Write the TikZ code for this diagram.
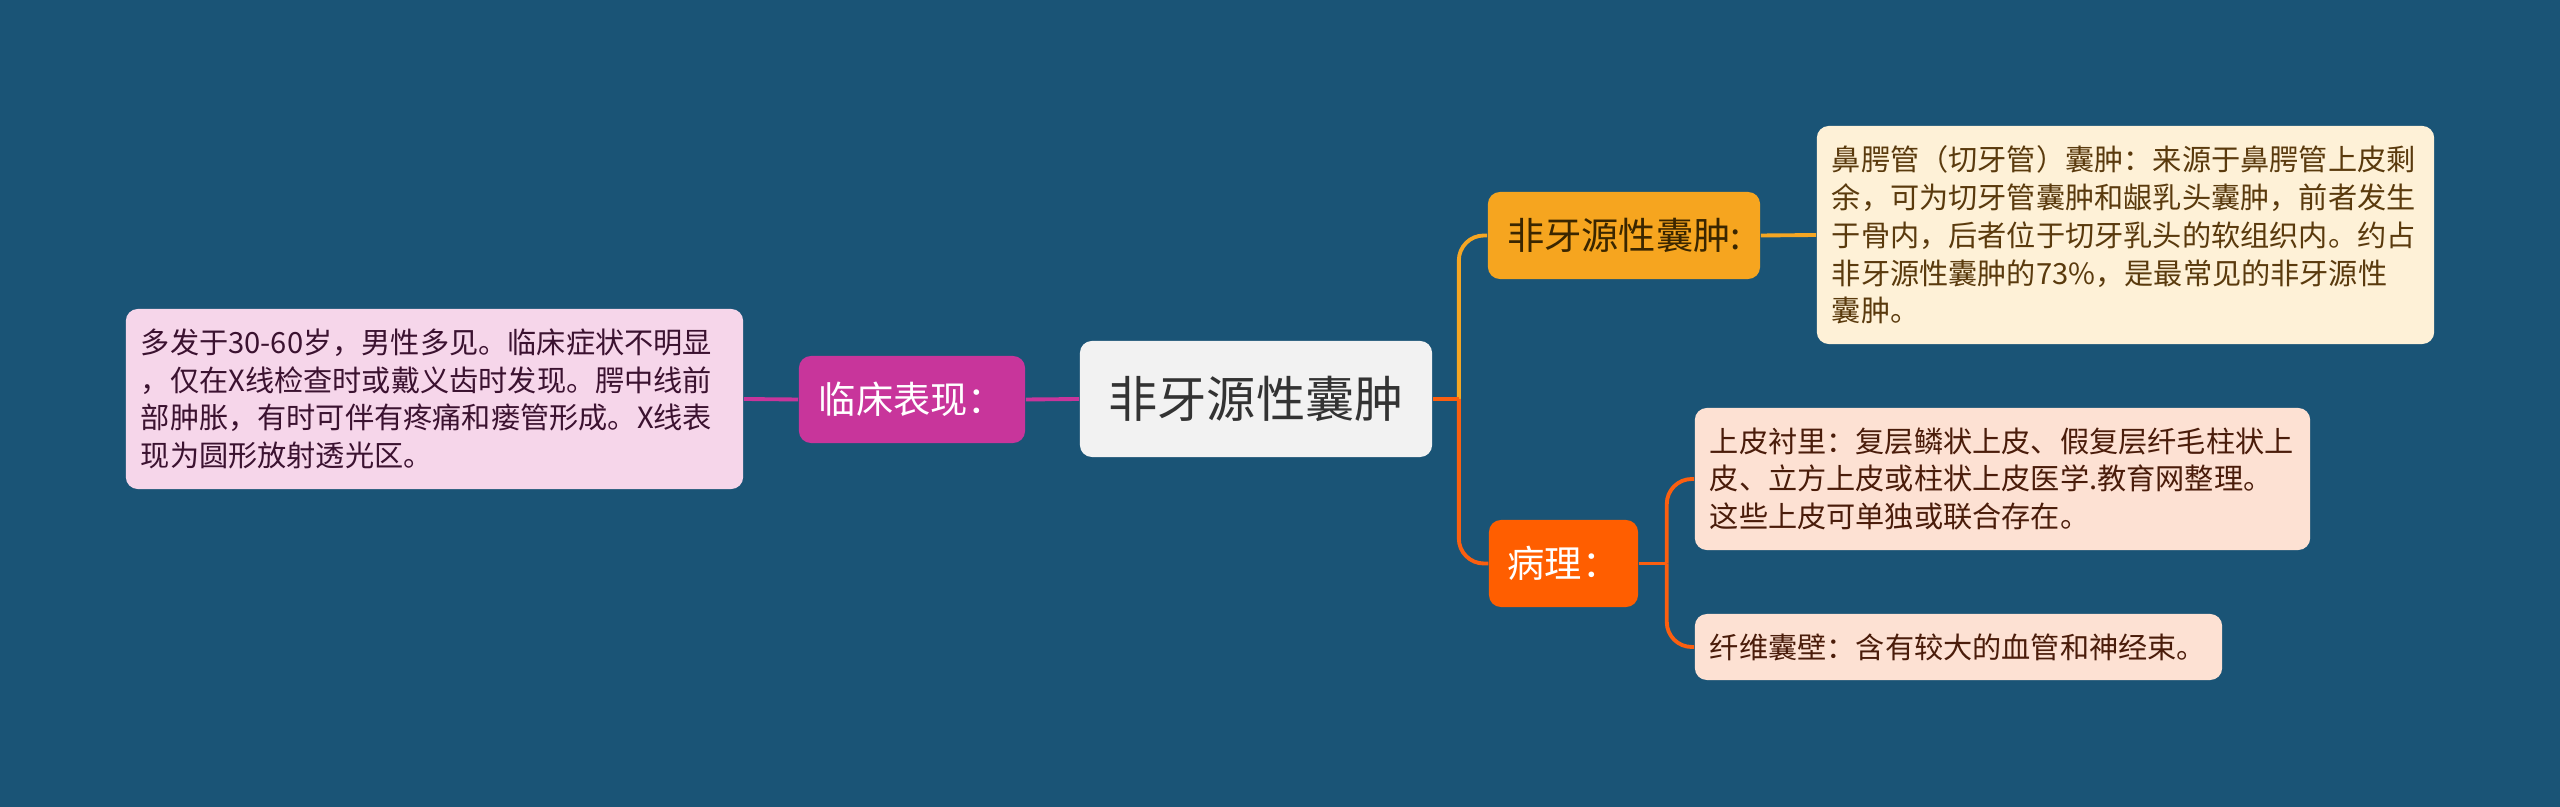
\documentclass[tikz,border=0pt]{standalone}
\usepackage{fontspec}
\setmainfont{Noto Sans CJK SC}
\usepackage{tikz}
\usetikzlibrary{positioning}

\definecolor{bgBlue}{HTML}{1A5476}
\definecolor{rootFill}{HTML}{F2F2F2}
\definecolor{rootText}{HTML}{333333}
\definecolor{clinicalFill}{HTML}{C8359B}
\definecolor{clinicalLeafFill}{HTML}{F6D6EA}
\definecolor{clinicalLeafText}{HTML}{3B1230}
\definecolor{cystFill}{HTML}{F6A51F}
\definecolor{cystText}{HTML}{3A2600}
\definecolor{cystLeafFill}{HTML}{FEF1D7}
\definecolor{cystLeafText}{HTML}{5A3A0D}
\definecolor{pathoFill}{HTML}{FF5E00}
\definecolor{pathoLeafFill}{HTML}{FDE1D3}
\definecolor{pathoLeafText}{HTML}{4A1C0A}
\definecolor{yellowLine}{HTML}{F5A623}
\definecolor{orangeLine}{HTML}{FA5F10}
\definecolor{magentaLine}{HTML}{C8359B}

\begin{document}
\begin{tikzpicture}[
    x=0.01cm, y=-0.01cm,
    box/.style={rounded corners=0.12cm, inner sep=0pt, align=center},
    topic/.style={box, minimum height=0.87cm, font=\fontsize{10.6pt}{12pt}\selectfont},
    leaf/.style={box, align=left, inner xsep=0.15cm, font=\fontsize{8.3pt}{10.75pt}\selectfont},
    link/.style={line width=1.1pt, rounded corners=0.25cm}
]

% Background
\useasboundingbox (0,0) rectangle (2560,807);
\fill[bgBlue] (0,0) rectangle (2560,807);

% Central node
\node[box, fill=rootFill, text=rootText, minimum width=3.52cm, minimum height=1.16cm,
      font=\fontsize{14pt}{16pt}\selectfont] (root) at (1256,399) {非牙源性囊肿};

% Left branch
\node[topic, fill=clinicalFill, text=white, minimum width=2.26cm] (clinical) at (912,399.5) {临床表现：};
\node[leaf, fill=clinicalLeafFill, text=clinicalLeafText, text width=5.87cm, minimum height=1.8cm]
    (clinicalText) at (434.5,399)
    {多发于30-60岁，男性多见。临床症状不明显\\，仅在X线检查时或戴义齿时发现。腭中线前\\部肿胀，有时可伴有疼痛和瘘管形成。X线表\\现为圆形放射透光区。};

% Right branch, top
\node[topic, fill=cystFill, text=cystText, minimum width=2.72cm] (cyst) at (1624,235.5) {非牙源性囊肿:};
\node[leaf, fill=cystLeafFill, text=cystLeafText, text width=5.87cm, minimum height=2.18cm]
    (cystText) at (2125.5,235)
    {鼻腭管（切牙管）囊肿：来源于鼻腭管上皮剩\\余，可为切牙管囊肿和龈乳头囊肿，前者发生\\于骨内，后者位于切牙乳头的软组织内。约占\\非牙源性囊肿的73\%，是最常见的非牙源性\\囊肿。};

% Right branch, bottom
\node[topic, fill=pathoFill, text=white, minimum width=1.49cm] (patho) at (1563.5,563.5) {病理：};
\node[leaf, fill=pathoLeafFill, text=pathoLeafText, text width=5.85cm, minimum height=1.42cm]
    (lining) at (2002.5,479)
    {上皮衬里：复层鳞状上皮、假复层纤毛柱状上\\皮、立方上皮或柱状上皮医学.教育网整理。\\这些上皮可单独或联合存在。};
\node[leaf, fill=pathoLeafFill, text=pathoLeafText, text width=4.97cm, minimum height=0.66cm]
    (wall) at (1958.5,647)
    {纤维囊壁：含有较大的血管和神经束。};

% Junctions
\coordinate (rootJ) at ([xshift=0.26cm]root.east);
\coordinate (pathoJ) at ([xshift=0.28cm]patho.east);

% Edges to the left
\draw[link, magentaLine] (root.west) -- (clinical.east);
\draw[link, magentaLine] (clinical.west) -- (clinicalText.east);

% Edges to the right
\draw[link, yellowLine] (rootJ) |- (cyst.west);
\draw[link, orangeLine] (rootJ) |- (patho.west);
\draw[link, orangeLine] (root.east) -- (rootJ);
\draw[link, yellowLine] (cyst.east) -- (cystText.west);
\draw[link, orangeLine] (pathoJ) |- (lining.west);
\draw[link, orangeLine] (pathoJ) |- (wall.west);
\draw[link, orangeLine] (patho.east) -- (pathoJ);

\end{tikzpicture}
\end{document}
